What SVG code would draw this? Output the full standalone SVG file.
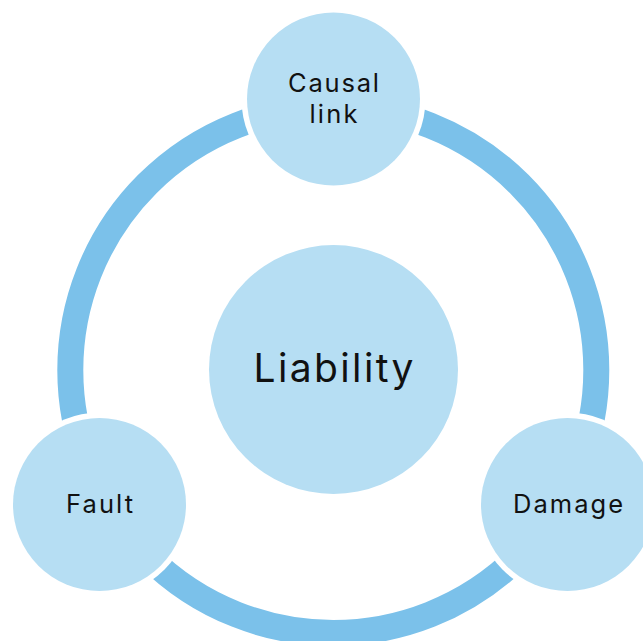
<svg xmlns="http://www.w3.org/2000/svg" width="643" height="641" viewBox="0 0 643 641">
<style>
.ring{fill:none;stroke:#7BC1EA;stroke-width:26}
.gap{fill:#FFFFFF}
.node{fill:#B6DEF3}
.lbl{font-family:Inter,"Noto Sans","Liberation Sans",sans-serif;fill:#111111;text-anchor:middle}
</style>
<rect width="643" height="641" fill="#FFFFFF"/>
<g id="connectors">
<circle class="ring" cx="333.3" cy="370" r="263"/>
</g>
<g id="liability">
<circle class="node" cx="333.5" cy="369.5" r="124.5"/>
<text class="lbl" x="333.5" y="382" font-size="39" textLength="160" lengthAdjust="spacing">Liability</text>
</g>
<g id="causal-link">
<circle class="gap" cx="333.5" cy="99" r="92"/>
<circle class="node" cx="333.5" cy="99" r="86.5"/>
<text class="lbl" x="333.5" y="92" font-size="25.5" textLength="91" lengthAdjust="spacing">Causal</text>
<text class="lbl" x="333.5" y="123" font-size="25.5" textLength="48" lengthAdjust="spacing">link</text>
</g>
<g id="fault">
<circle class="gap" cx="99.5" cy="504.5" r="92"/>
<circle class="node" cx="99.5" cy="504.5" r="86.5"/>
<text class="lbl" x="99.5" y="513" font-size="25.5" textLength="67" lengthAdjust="spacing">Fault</text>
</g>
<g id="damage">
<circle class="gap" cx="567.5" cy="504.5" r="92"/>
<circle class="node" cx="567.5" cy="504.5" r="86.5"/>
<text class="lbl" x="568" y="513" font-size="25.5" textLength="110" lengthAdjust="spacing">Damage</text>
</g>
</svg>
